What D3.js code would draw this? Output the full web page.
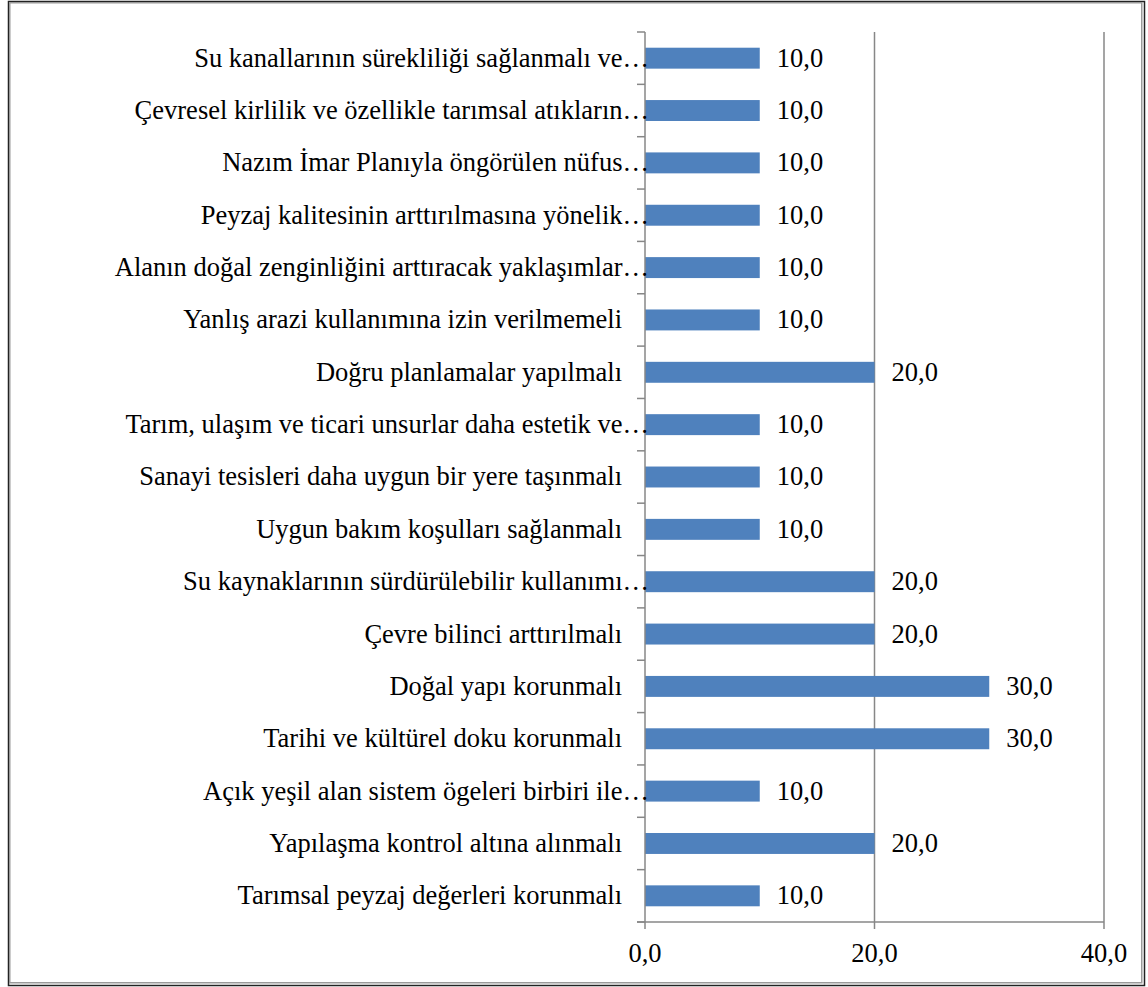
<!DOCTYPE html>
<html>
<head>
<meta charset="utf-8">
<script src="https://cdn.jsdelivr.net/npm/d3@7"></script>
<style>
  html, body { margin: 0; padding: 0; background: #fff; }
  svg { display: block; }
</style>
</head>
<body>
<svg id="chart" width="1148" height="987"></svg>
<script>
// Suggestions, listed top to bottom as displayed
const categories = [
  "Su kanallarının sürekliliği sağlanmalı ve…",
  "Çevresel kirlilik ve özellikle tarımsal atıkların…",
  "Nazım İmar Planıyla öngörülen nüfus…",
  "Peyzaj kalitesinin arttırılmasına yönelik…",
  "Alanın doğal zenginliğini arttıracak yaklaşımlar…",
  "Yanlış arazi kullanımına izin verilmemeli",
  "Doğru planlamalar yapılmalı",
  "Tarım, ulaşım ve ticari unsurlar daha estetik ve…",
  "Sanayi tesisleri daha uygun bir yere taşınmalı",
  "Uygun bakım koşulları sağlanmalı",
  "Su kaynaklarının sürdürülebilir kullanımı…",
  "Çevre bilinci arttırılmalı",
  "Doğal yapı korunmalı",
  "Tarihi ve kültürel doku korunmalı",
  "Açık yeşil alan sistem ögeleri birbiri ile…",
  "Yapılaşma kontrol altına alınmalı",
  "Tarımsal peyzaj değerleri korunmalı"
];
const values = [10, 10, 10, 10, 10, 10, 20, 10, 10, 10, 20, 20, 30, 30, 10, 20, 10];
const xTicks = [0, 20, 40];

const fmt = v => v.toFixed(1).replace(".", ",");
const FONT = "'Liberation Serif', 'Times New Roman', Tinos, serif";

const svg = d3.select("#chart");

// Outer frame with a darker edge on the right and bottom
svg.append("rect").attr("x", 8.5).attr("y", 1.5).attr("width", 1136).attr("height", 984)
  .attr("fill", "none").attr("stroke", "#222").attr("stroke-width", 1.5);
svg.append("rect").attr("x", 9.75).attr("y", 2.75).attr("width", 1132).attr("height", 980)
  .attr("fill", "none").attr("stroke", "#9a9a9a").attr("stroke-width", 1.5);

const plotLeft = 645, plotRight = 1104, plotTop = 32, plotBottom = 922;

const x = d3.scaleLinear().domain([0, 40]).range([plotLeft, plotRight]);
const y = d3.scaleBand().domain(categories).range([plotTop, plotBottom]).paddingInner(0.6).paddingOuter(0.3);

const gridColor = "#878787";

// Vertical gridlines (extend below the axis as tick marks)
svg.append("g").selectAll("line").data(xTicks.filter(t => t > 0)).join("line")
  .attr("x1", d => x(d)).attr("x2", d => x(d))
  .attr("y1", plotTop).attr("y2", plotBottom + 7)
  .attr("stroke", gridColor).attr("stroke-width", 1.5);

// Bars
svg.append("g").selectAll("rect").data(values).join("rect")
  .attr("x", x(0))
  .attr("y", (d, i) => y(categories[i]))
  .attr("width", d => x(d) - x(0))
  .attr("height", y.bandwidth())
  .attr("fill", "#4F81BD");

// Category axis with ticks between categories
const bounds = d3.range(categories.length + 1)
  .map(i => plotTop + i * (plotBottom - plotTop) / categories.length);
svg.append("line").attr("x1", x(0)).attr("x2", x(0)).attr("y1", plotTop).attr("y2", plotBottom + 7)
  .attr("stroke", gridColor).attr("stroke-width", 1.5);
svg.append("g").selectAll("line").data(bounds).join("line")
  .attr("x1", x(0) - 8).attr("x2", x(0))
  .attr("y1", d => d).attr("y2", d => d)
  .attr("stroke", gridColor).attr("stroke-width", 1.5);

// Value axis line
svg.append("line").attr("x1", x(0) - 8).attr("x2", plotRight).attr("y1", plotBottom).attr("y2", plotBottom)
  .attr("stroke", gridColor).attr("stroke-width", 1.5);

const textLayer = svg.append("g").attr("font-family", FONT).attr("font-size", 26.5).attr("fill", "#000");

// Category labels (truncated ones run up to the axis)
textLayer.append("g").selectAll("text").data(categories).join("text")
  .attr("x", d => d.endsWith("…") ? x(0) + 4 : x(0) - 23)
  .attr("y", d => y(d) + y.bandwidth() / 2)
  .attr("dy", "0.32em")
  .attr("text-anchor", "end")
  .text(d => d);

// Value labels
textLayer.append("g").selectAll("text").data(values).join("text")
  .attr("x", d => x(d) + 17)
  .attr("y", (d, i) => y(categories[i]) + y.bandwidth() / 2)
  .attr("dy", "0.32em")
  .text(d => fmt(d));

// Value axis tick labels
textLayer.append("g").selectAll("text").data(xTicks).join("text")
  .attr("x", d => x(d))
  .attr("y", 962)
  .attr("text-anchor", "middle")
  .text(d => fmt(d));
</script>
</body>
</html>
